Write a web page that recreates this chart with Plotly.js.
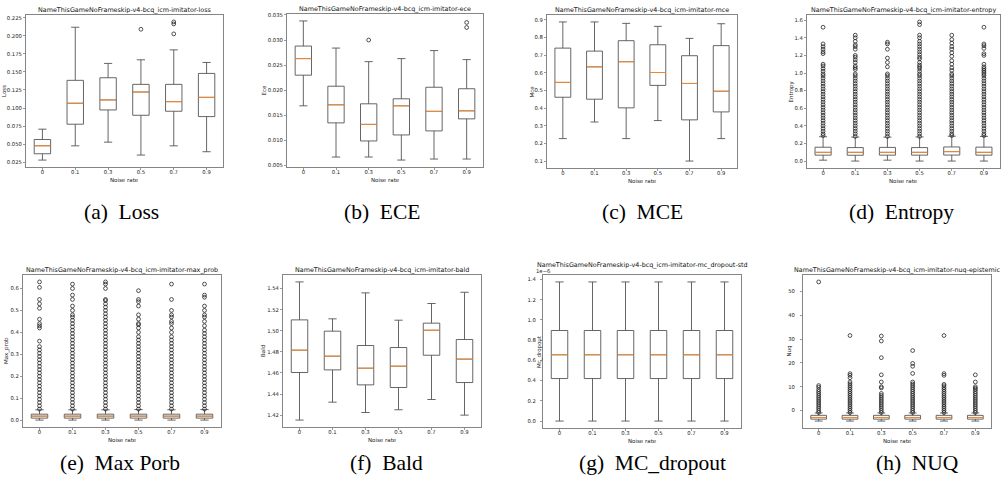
<!DOCTYPE html>
<html><head><meta charset="utf-8">
<script src="https://cdn.plot.ly/plotly-3.0.1.min.js"></script>
<style>html,body{margin:0;padding:0;background:#fff;}#chart{width:1008px;height:487px;}</style>
</head><body><div id="chart"></div>
<script>
const noiseRates = ['0','0.1','0.3','0.5','0.7','0.9'];

// (a) Loss
const lossUpper  = [0.0706,0.2121,0.1619,0.1669,0.1807,0.1632];
const lossQ3     = [0.0563,0.1384,0.1420,0.1328,0.1328,0.1480];
const lossMedian = [0.0476,0.1066,0.1112,0.1222,0.1088,0.1148];
const lossQ1     = [0.0365,0.0775,0.0973,0.0899,0.0955,0.0881];
const lossLower  = [0.0277,0.0475,0.0526,0.0347,0.0475,0.0393];
const lossOutliers = [[],[],[],[0.2093],[0.2195,0.2167,0.2029],[]];

// (b) ECE
const eceUpper  = [0.0338,0.0284,0.0257,0.0263,0.0279,0.0261];
const eceQ3     = [0.0288,0.0208,0.0173,0.0183,0.0206,0.0203];
const eceMedian = [0.0263,0.0171,0.0132,0.0169,0.0158,0.0159];
const eceQ1     = [0.0230,0.0135,0.0099,0.0111,0.0119,0.0143];
const eceLower  = [0.0169,0.0067,0.0067,0.0061,0.0063,0.0063];
const eceOutliers = [[],[],[0.0300],[],[],[0.0335,0.0325]];

// (c) MCE
const mceUpper  = [0.887,0.887,0.879,0.862,0.794,0.877];
const mceQ3     = [0.739,0.722,0.781,0.758,0.696,0.753];
const mceMedian = [0.545,0.633,0.662,0.601,0.539,0.495];
const mceQ1     = [0.461,0.450,0.401,0.528,0.333,0.378];
const mceLower  = [0.227,0.321,0.227,0.329,0.100,0.227];
const mceOutliers = [[],[],[],[],[],[]];

// (d) Entropy
const entUpper  = [0.276,0.272,0.272,0.274,0.282,0.280];
const entQ3     = [0.157,0.153,0.155,0.153,0.160,0.158];
const entMedian = [0.099,0.099,0.099,0.099,0.107,0.099];
const entQ1     = [0.067,0.066,0.067,0.067,0.068,0.067];
const entLower  = [0.010,0.000,0.010,0.000,0.000,0.000];
const entOutliers0 = [0.29,0.31,0.34,0.37,0.40,0.43,0.46,0.49,0.52,0.55,0.58,0.61,0.64,0.67,0.70,0.73,0.76,0.79,0.82,0.85,0.88,0.91,0.94,0.97,0.99,1.02,1.05,1.08,1.10,1.22,1.24,1.27,1.30,1.33,1.52];
const entOutliers1 = [0.28,0.31,0.34,0.37,0.40,0.43,0.46,0.49,0.52,0.55,0.58,0.61,0.64,0.67,0.70,0.73,0.76,0.79,0.82,0.85,0.88,0.91,0.94,0.97,0.99,1.04,1.06,1.08,1.12,1.15,1.18,1.20,1.27,1.30,1.32,1.36,1.40,1.43];
const entOutliers2 = [0.28,0.31,0.34,0.37,0.40,0.43,0.46,0.49,0.52,0.55,0.58,0.61,0.64,0.67,0.70,0.73,0.76,0.79,0.82,0.85,0.88,0.91,0.94,0.97,0.99,1.07,1.12,1.17,1.27,1.33,1.35];
const entOutliers3 = [0.28,0.31,0.34,0.37,0.40,0.43,0.46,0.49,0.52,0.55,0.58,0.61,0.64,0.67,0.70,0.73,0.76,0.79,0.82,0.85,0.88,0.91,0.94,0.97,0.99,1.02,1.05,1.07,1.09,1.12,1.16,1.18,1.21,1.24,1.27,1.30,1.33,1.36,1.40,1.43,1.55,1.58];
const entOutliers4 = [0.29,0.31,0.34,0.37,0.40,0.43,0.46,0.49,0.52,0.55,0.58,0.61,0.64,0.67,0.70,0.73,0.76,0.79,0.82,0.85,0.88,0.91,0.94,0.97,0.99,1.03,1.06,1.10,1.14,1.19,1.23,1.27,1.30,1.34,1.38,1.43];
const entOutliers5 = [0.29,0.31,0.34,0.37,0.40,0.43,0.46,0.49,0.52,0.55,0.58,0.61,0.64,0.67,0.70,0.73,0.76,0.79,0.82,0.85,0.88,0.91,0.94,0.97,0.99,1.01,1.03,1.05,1.07,1.10,1.20,1.22,1.28,1.31,1.33,1.52];

// (e) Max prob
const mpUpper  = [0.047,0.047,0.047,0.048,0.047,0.048];
const mpQ3     = [0.027,0.027,0.027,0.027,0.027,0.027];
const mpMedian = [0.018,0.018,0.018,0.018,0.018,0.018];
const mpQ1     = [0.009,0.009,0.009,0.009,0.009,0.009];
const mpLower  = [0.000,0.000,0.000,0.000,0.000,0.000];
const mpOutliers0 = [0.050,0.065,0.080,0.095,0.110,0.125,0.140,0.155,0.170,0.185,0.200,0.215,0.230,0.245,0.260,0.275,0.290,0.305,0.320,0.335,0.36,0.42,0.43,0.44,0.46,0.51,0.53,0.55,0.605,0.63];
const mpOutliers1 = [0.050,0.065,0.080,0.095,0.110,0.125,0.140,0.155,0.170,0.185,0.200,0.215,0.230,0.245,0.260,0.275,0.290,0.305,0.320,0.335,0.350,0.365,0.38,0.395,0.41,0.425,0.44,0.455,0.47,0.48,0.50,0.52,0.55,0.57,0.60,0.62];
const mpOutliers2 = [0.050,0.065,0.080,0.095,0.110,0.125,0.140,0.155,0.170,0.185,0.200,0.215,0.230,0.245,0.260,0.275,0.290,0.305,0.320,0.335,0.350,0.365,0.38,0.395,0.41,0.425,0.44,0.455,0.47,0.485,0.50,0.515,0.53,0.545,0.55,0.60,0.62,0.63];
const mpOutliers3 = [0.050,0.065,0.080,0.095,0.110,0.125,0.140,0.155,0.170,0.185,0.200,0.215,0.230,0.245,0.260,0.275,0.290,0.305,0.320,0.335,0.350,0.365,0.38,0.40,0.42,0.435,0.44,0.46,0.48,0.52,0.54,0.55,0.59];
const mpOutliers4 = [0.050,0.065,0.080,0.095,0.110,0.125,0.140,0.155,0.170,0.185,0.200,0.215,0.230,0.245,0.260,0.275,0.290,0.305,0.320,0.335,0.350,0.365,0.38,0.40,0.42,0.44,0.45,0.47,0.48,0.50,0.55,0.62];
const mpOutliers5 = [0.050,0.065,0.080,0.095,0.110,0.125,0.140,0.155,0.170,0.185,0.200,0.215,0.230,0.245,0.260,0.275,0.290,0.305,0.320,0.335,0.350,0.365,0.38,0.395,0.41,0.43,0.45,0.47,0.48,0.50,0.52,0.56,0.57,0.62];

// (f) Bald
const baldUpper  = [1.5463,1.5113,1.5359,1.5100,1.5258,1.5365];
const baldQ3     = [1.5103,1.4996,1.4860,1.4841,1.5072,1.4917];
const baldMedian = [1.4816,1.4759,1.4645,1.4664,1.5005,1.4731];
const baldQ1     = [1.4604,1.4629,1.4487,1.4462,1.4768,1.4509];
const baldLower  = [1.4153,1.4323,1.4225,1.4251,1.4348,1.4200];
const baldOutliers = [[],[],[],[],[],[]];

// (g) MC dropout std (in units of 1e-6)
const mcUpper  = [1.375,1.375,1.375,1.375,1.375,1.375];
const mcQ3     = [0.895,0.895,0.895,0.895,0.895,0.895];
const mcMedian = [0.655,0.655,0.655,0.655,0.655,0.655];
const mcQ1     = [0.420,0.420,0.420,0.420,0.420,0.420];
const mcLower  = [0.000,0.000,0.000,0.000,0.000,0.000];
const mcOutliers = [[],[],[],[],[],[]];

// (h) NUQ epistemic
const nuqUpper  = [-1.0,-1.0,-1.0,-1.0,-1.0,-1.0];
const nuqQ3     = [-2.0,-2.0,-2.0,-2.0,-2.0,-2.0];
const nuqMedian = [-2.9,-2.9,-2.9,-2.9,-2.9,-2.9];
const nuqQ1     = [-3.6,-3.6,-3.6,-3.6,-3.6,-3.6];
const nuqLower  = [-4.4,-4.4,-4.4,-4.4,-4.4,-4.4];
const nuqOutliers0 = [-0.8,0.0,0.8,1.6,2.4,3.2,4.0,4.8,5.6,6.4,7.2,8.0,8.8,9.8,10.5,54.0];
const nuqOutliers1 = [-0.8,0.0,0.8,1.6,2.4,3.2,4.0,4.8,5.6,6.4,7.2,8.0,8.8,9.6,10.4,11.2,12.0,13.8,14.8,15.5,31.5];
const nuqOutliers2 = [-0.8,0.0,0.8,1.6,2.4,3.2,4.0,4.8,5.6,6.4,7.2,9.5,10.0,12.0,15.0,22.2,29.2,31.3];
const nuqOutliers3 = [-0.8,0.0,0.8,1.6,2.4,3.2,4.0,4.8,5.6,6.4,7.2,8.0,8.8,9.6,10.4,11.2,12.0,15.6,18.6,19.8,25.2];
const nuqOutliers4 = [-0.8,0.0,0.8,1.6,2.4,3.2,4.0,4.8,5.6,6.4,7.2,8.0,8.8,9.6,10.4,11.0,14.8,15.5,31.5];
const nuqOutliers5 = [-0.8,0.0,0.8,1.6,2.4,3.2,4.0,4.8,5.6,6.4,7.2,8.0,8.8,9.4,10.0,12.0,15.0];

const prefix = 'NameThisGameNoFrameskip-v4-bcq_icm-imitator-';
const panels = [
  {name:'loss', ylabel:'Loss', caption:'(a)\u00a0 Loss', upper:lossUpper,q3:lossQ3,med:lossMedian,q1:lossQ1,lower:lossLower,out:lossOutliers, tick0:0.025,dtick:0.025,fmt:'.3f'},
  {name:'ece', ylabel:'Ece', caption:'(b)\u00a0 ECE', upper:eceUpper,q3:eceQ3,med:eceMedian,q1:eceQ1,lower:eceLower,out:eceOutliers, tick0:0.005,dtick:0.005,fmt:'.3f'},
  {name:'mce', ylabel:'Mce', caption:'(c)\u00a0 MCE', upper:mceUpper,q3:mceQ3,med:mceMedian,q1:mceQ1,lower:mceLower,out:mceOutliers, tick0:0.1,dtick:0.1,fmt:'.1f'},
  {name:'entropy', ylabel:'Entropy', caption:'(d)\u00a0 Entropy', upper:entUpper,q3:entQ3,med:entMedian,q1:entQ1,lower:entLower,out:[entOutliers0,entOutliers1,entOutliers2,entOutliers3,entOutliers4,entOutliers5], tick0:0,dtick:0.2,fmt:'.1f'},
  {name:'max_prob', ylabel:'Max_prob', caption:'(e)\u00a0 Max Porb', upper:mpUpper,q3:mpQ3,med:mpMedian,q1:mpQ1,lower:mpLower,out:[mpOutliers0,mpOutliers1,mpOutliers2,mpOutliers3,mpOutliers4,mpOutliers5], tick0:0,dtick:0.1,fmt:'.1f'},
  {name:'bald', ylabel:'Bald', caption:'(f)\u00a0 Bald', upper:baldUpper,q3:baldQ3,med:baldMedian,q1:baldQ1,lower:baldLower,out:baldOutliers, tick0:1.42,dtick:0.02,fmt:'.2f'},
  {name:'mc_dropout-std', ylabel:'Mc_dropout', caption:'(g)\u00a0 MC_dropout', upper:mcUpper,q3:mcQ3,med:mcMedian,q1:mcQ1,lower:mcLower,out:mcOutliers, tick0:0,dtick:0.2,fmt:'.1f'},
  {name:'nuq-epistemic', ylabel:'Nuq', caption:'(h)\u00a0 NUQ', upper:nuqUpper,q3:nuqQ3,med:nuqMedian,q1:nuqQ1,lower:nuqLower,out:[nuqOutliers0,nuqOutliers1,nuqOutliers2,nuqOutliers3,nuqOutliers4,nuqOutliers5], tick0:0,dtick:10,fmt:'d'}
];

// layout geometry (pixels): left, top, right, bottom
const rects = [[26,15,223,167],[287,14,483,167],[547,15,737,168],[807,15,1000,168],
               [23,275,221,427],[283,275,481,427],[543,275,741,428],[803,275,991,428]];
const ylabelX = [4,263,531,791,6,263,539.5,789];
const yStandoff = [0,0,0,0,0,0,3,4];
const titleShift = [5,5,5,5,5,5,10,5];
const captionXY = [[121,212],[382,212],[642,212],[901,212],[120,463],[386,463],[652,463],[917,463]];
const W = 1008, H = 487;
const px = v => v / W, py = v => 1 - v / H;

const traces = [];
const layout = {
  width: W, height: H, margin: {l:0,r:0,t:0,b:0},
  paper_bgcolor: '#fff', plot_bgcolor: '#fff', showlegend: false,
  font: {family: 'DejaVu Sans', size: 5.3, color: '#222'},
  annotations: []
};
const pos = noiseRates.map((_, i) => i);

panels.forEach((p, k) => {
  const n = k + 1, sfx = n === 1 ? '' : String(n);
  const xa = 'x' + sfx, ya = 'y' + sfx;
  const [L, T, R, B] = rects[k];

  traces.push({type:'box', x: pos, q1: p.q1, median: p.med, q3: p.q3, lowerfence: p.lower, upperfence: p.upper,
    width: 0.5, whiskerwidth: 0.5, boxpoints: false, fillcolor: 'rgba(0,0,0,0)',
    line: {color: '#555', width: 0.9}, xaxis: xa, yaxis: ya, hoverinfo: 'skip'});

  const mx = [], my = [];
  pos.forEach((c, i) => { mx.push(c - 0.25, c + 0.25, null); my.push(p.med[i], p.med[i], null); });
  traces.push({type:'scatter', mode:'lines', x: mx, y: my, line: {color:'#ff8c2a', width: 0.9},
    xaxis: xa, yaxis: ya, hoverinfo: 'skip'});

  const ox = [], oy = [];
  p.out.forEach((arr, i) => arr.forEach(v => { ox.push(pos[i]); oy.push(v); }));
  if (ox.length) traces.push({type:'scatter', mode:'markers', x: ox, y: oy,
    marker: {symbol:'circle-open', size: 3.8, color:'#1a1a1a', line:{width:0.75}},
    xaxis: xa, yaxis: ya, hoverinfo: 'skip'});

  // matplotlib-like auto range (5% padding)
  const allV = [].concat(p.lower, p.upper, ...p.out);
  const mn = Math.min(...allV), mxv = Math.max(...allV), pad = 0.05 * (mxv - mn);

  const axisCommon = {showline: true, mirror: true, linecolor: '#666', linewidth: 0.8,
    ticks: 'outside', ticklen: 2.2, tickwidth: 0.6, tickcolor: '#555',
    showgrid: false, zeroline: false, fixedrange: true, tickfont: {size: 5.3, color:'#222'}};
  layout['xaxis' + sfx] = Object.assign({}, axisCommon, {domain: [px(L), px(R)], anchor: ya,
    range: [-0.5, 5.5], tickmode: 'array', tickvals: pos, ticktext: noiseRates, ticklabelstandoff: -2});
  layout['yaxis' + sfx] = Object.assign({}, axisCommon, {domain: [py(B), py(T)], anchor: xa,
    range: [mn - pad, mxv + pad], tick0: p.tick0, dtick: p.dtick, tickformat: p.fmt,
    ticklabelstandoff: yStandoff[k]});

  const cx = px((L + R) / 2);
  layout.annotations.push({xref:'paper', yref:'paper', x: cx, y: py(T - titleShift[k]), yanchor:'middle', xanchor:'center',
    text: prefix + p.name, showarrow: false, font: {size: 6.4, color:'#111'}});
  layout.annotations.push({xref:'paper', yref:'paper', x: cx, y: py(B + 12.5), yanchor:'middle', xanchor:'center',
    text: 'Noise rate', showarrow: false, font: {size: 5.5, color:'#222'}});
  layout.annotations.push({xref:'paper', yref:'paper', x: px(ylabelX[k]), y: py((T + B) / 2), yanchor:'middle', xanchor:'center',
    text: p.ylabel, textangle: -90, showarrow: false, font: {size: 5.5, color:'#222'}});
  layout.annotations.push({xref:'paper', yref:'paper', x: px(captionXY[k][0]), y: py(captionXY[k][1]), yanchor:'middle', xanchor:'center',
    text: p.caption, showarrow: false, font: {family:'Liberation Serif', size: 21.5, color:'#000'}});
});

// offset text for MC dropout axis
layout.annotations.push({xref:'paper', yref:'paper', x: px(534), y: py(271), xanchor:'left', yanchor:'middle',
  text: '1e\u22126', showarrow: false, font: {size: 5.3, color:'#222'}});

Plotly.newPlot('chart', traces, layout, {staticPlot: true, displayModeBar: false});
</script>
</body></html>
